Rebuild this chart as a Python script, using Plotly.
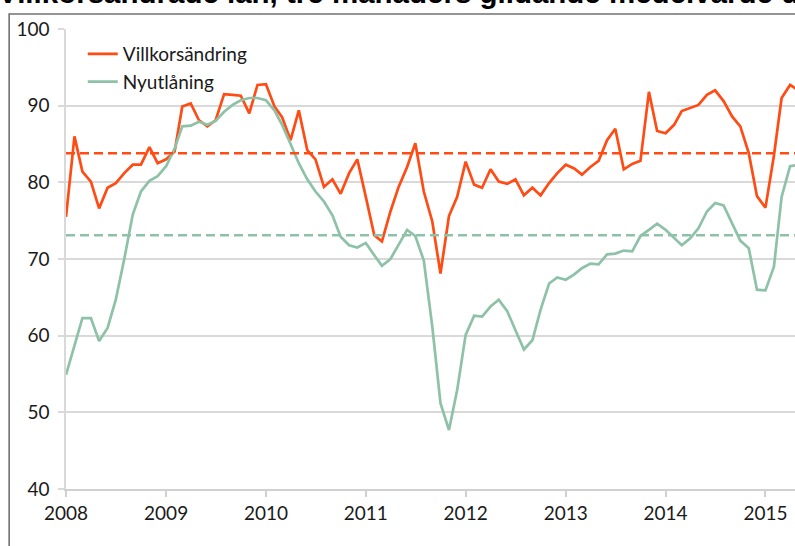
import plotly.graph_objects as go
import pandas as pd

# Monthly observations, Jan 2008 onwards
start_month = "2008-01-01"
villkorsandring = [
    75.5, 86.0, 81.4, 80.1, 76.6, 79.3, 79.9, 81.2, 82.3, 82.3,
    84.6, 82.5, 83.0, 84.0, 89.9, 90.3, 88.1, 87.3, 88.1, 91.5,
    91.4, 91.3, 89.0, 92.7, 92.8, 89.9, 88.5, 85.5, 89.4, 84.2,
    83.0, 79.4, 80.4, 78.5, 81.2, 83.0, 78.1, 73.1, 72.3, 76.2,
    79.4, 82.0, 85.1, 78.8, 74.9, 68.1, 75.6, 78.1, 82.7, 79.7,
    79.3, 81.7, 80.1, 79.8, 80.4, 78.3, 79.3, 78.3, 79.9, 81.2,
    82.3, 81.8, 81.0, 82.0, 82.8, 85.5, 87.0, 81.7, 82.4, 82.8,
    91.8, 86.7, 86.4, 87.5, 89.3, 89.7, 90.1, 91.4, 92.0, 90.6,
    88.6, 87.3, 83.8, 78.2, 76.7, 83.5, 91.0, 92.7, 92.0,
]
nyutlaning = [
    54.9, 58.6, 62.3, 62.3, 59.3, 61.0, 64.7, 70.0, 75.8, 78.8,
    80.2, 80.8, 82.1, 84.4, 87.3, 87.4, 87.9, 87.5, 88.0, 89.2,
    90.1, 90.7, 91.0, 91.0, 90.7, 89.4, 87.5, 85.0, 82.5, 80.4,
    78.8, 77.5, 75.7, 72.9, 71.8, 71.5, 72.1, 70.5, 69.1, 70.0,
    71.8, 73.8, 73.0, 69.8, 61.2, 51.2, 47.7, 52.9, 60.1, 62.6,
    62.5, 63.8, 64.7, 63.2, 60.7, 58.2, 59.4, 63.4, 66.8, 67.6,
    67.3, 68.0, 68.8, 69.4, 69.3, 70.6, 70.7, 71.1, 71.0, 73.0,
    73.8, 74.6, 73.8, 72.8, 71.8, 72.7, 74.0, 76.2, 77.3, 77.0,
    74.7, 72.4, 71.4, 66.0, 65.9, 69.0, 78.1, 82.1, 82.3,
]
villkor_mean = 83.8
nyutl_mean = 73.1
years = ["2008", "2009", "2010", "2011", "2012", "2013", "2014", "2015"]
y_ticks = [40, 50, 60, 70, 80, 90, 100]
series_names = ["Villkorsändring", "Nyutlåning"]
title_text = "Villkorsändrade lån, tre månaders glidande medelvärde diffusionsindex"

months = pd.date_range(start_month, periods=len(villkorsandring), freq="MS")

ORANGE = "#FF4B14"
GREEN = "#8EC2A8"
FONT = "Lato"
TXT = "#1a1a1a"
FRAME = "#707070"

fig = go.Figure()
fig.add_trace(go.Scatter(x=months, y=villkorsandring, mode="lines", name=series_names[0],
                         line=dict(color=ORANGE, width=2.7)))
fig.add_trace(go.Scatter(x=months, y=nyutlaning, mode="lines", name=series_names[1],
                         line=dict(color=GREEN, width=2.7)))
fig.add_trace(go.Scatter(x=[months[0], months[-1]], y=[villkor_mean, villkor_mean], mode="lines",
                         showlegend=False, hoverinfo="skip",
                         line=dict(color=ORANGE, width=2.5, dash="9px,5px")))
fig.add_trace(go.Scatter(x=[months[0], months[-1]], y=[nyutl_mean, nyutl_mean], mode="lines",
                         showlegend=False, hoverinfo="skip",
                         line=dict(color=GREEN, width=2.5, dash="9px,5px")))

# darker reference gridline at 60
fig.add_shape(type="line", xref="paper", yref="y", x0=0, x1=1, y0=60, y1=60,
              line=dict(color="#a6a6a6", width=1.5), layer="below")

# outer frame: left edge and top edge
fig.add_shape(type="line", xref="paper", yref="paper", x0=-0.078, x1=-0.078, y0=-0.3, y1=1.034,
              line=dict(color=FRAME, width=1.6), layer="below")
fig.add_shape(type="rect", xref="paper", yref="paper", x0=-0.078, x1=1.05, y0=1.031, y1=1.034,
              line=dict(width=0), fillcolor=FRAME, layer="below")

fig.add_annotation(text="<b>" + title_text + "</b>", xref="paper", yref="paper",
                   x=-0.096, y=1.039, xanchor="left", yanchor="bottom", showarrow=False,
                   font=dict(family="Liberation Sans", size=29.5, color="#000000"))

fig.update_layout(
    width=795, height=546,
    margin=dict(l=66, r=0, t=29, b=57, autoexpand=False),
    paper_bgcolor="white", plot_bgcolor="white",
    font=dict(family=FONT, size=19, color=TXT),
    showlegend=True,
    legend=dict(x=0.023, y=0.987, xanchor="left", yanchor="top",
                bgcolor="rgba(0,0,0,0)", font=dict(family=FONT, size=19, color=TXT),
                tracegroupgap=0),
    xaxis=dict(
        type="date", automargin=False,
        range=["2008-01-01", "2015-04-19"],
        tickvals=[f"{y}-01-01" for y in years], ticktext=years,
        showgrid=False, zeroline=False,
        showline=True, linecolor="#d0d0d0", linewidth=1.5,
        ticks="outside", ticklen=6, tickcolor="#d0d0d0", tickwidth=1.5,
        tickfont=dict(family=FONT, size=19, color=TXT),
    ),
    yaxis=dict(
        range=[40, 100], tickvals=y_ticks, automargin=False,
        showgrid=True, gridcolor="#d9d9d9", gridwidth=1.5,
        zeroline=False, showline=True, linecolor="#d9d9d9", linewidth=1.5,
        ticks="outside", ticklen=6, tickcolor="#d9d9d9", tickwidth=1.5,
        ticklabelstandoff=5,
        tickfont=dict(family=FONT, size=19, color=TXT),
    ),
)

fig.write_html("out.html", config={"displayModeBar": False},
               post_script="document.body.style.margin='0';document.body.style.overflow='hidden';")
